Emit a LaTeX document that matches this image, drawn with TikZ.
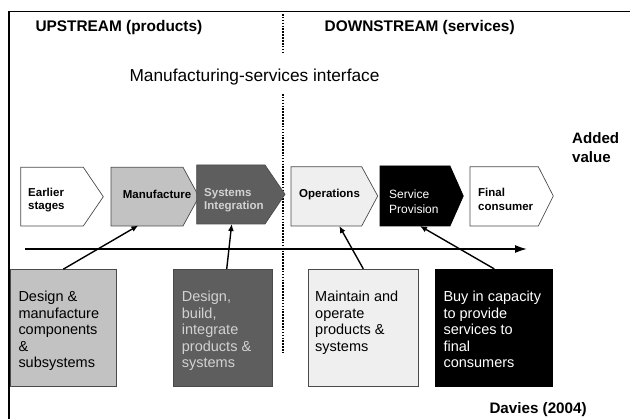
\documentclass[tikz,border=0pt]{standalone}
\usepackage{fontspec}
\setmainfont{Liberation Sans}
\usetikzlibrary{arrows.meta}
\definecolor{midgrey}{HTML}{C2C2C2}
\definecolor{darkgrey}{HTML}{5E5E5E}
\definecolor{palegrey}{HTML}{EFEFEF}
\definecolor{edgegrey}{HTML}{4A4A4A}
\definecolor{softtext}{HTML}{D2D2D2}

\begin{document}
\begin{tikzpicture}[x=1pt,y=-1pt,
  chev/.style={draw=edgegrey, line width=0.7pt, line join=miter},
  stagelabel/.style={anchor=west, inner sep=0, align=left, font=\fontsize{11.5}{13.5}\selectfont\bfseries},
  boxshape/.style={draw=edgegrey, line width=0.7pt, inner sep=0, minimum height=117pt},
  boxtext/.style={anchor=north west, inner sep=0, align=left, font=\fontsize{14.5}{16.5}\selectfont},
  heading/.style={anchor=west, inner sep=0, font=\fontsize{15.4}{18}\selectfont\bfseries},
  link/.style={line width=1.4pt, -{Latex[length=7pt,width=6pt]}},
  divider/.style={line width=1.6pt, dash pattern=on 1.6pt off 1.3pt}
]
\useasboundingbox (0,0) rectangle (630,419);
\fill[white] (0,0) rectangle (630,419);

% outer frame (left and top edges)
\draw[line width=1.2pt] (9,419) -- (9,11.5) -- (630,11.5);

% headings
\node[heading] (up) at (35.3,27.3) {UPSTREAM (products)};
\node[heading] (down) at (324.5,27.3) {DOWNSTREAM (services)};
\node[anchor=west, inner sep=0, font=\fontsize{17.3}{20}\selectfont] (iface) at (129.3,77) {Manufacturing-services interface};
\node[anchor=west, inner sep=0, align=left, font=\fontsize{15.1}{19}\selectfont\bfseries] (added) at (572,147.8) {Added\\value};
\node[heading, font=\fontsize{15.2}{18}\selectfont\bfseries] (cite) at (489.3,409.3) {Davies (2004)};

% manufacturing / services divider
\coordinate (d1) at (283,14);
\coordinate (d2) at (283,52);
\coordinate (d3) at (283,94);
\coordinate (d4) at (283,353);
\draw[divider] (d1) -- (d2);
\draw[divider] (d3) -- (d4);

% value chain stages
\draw[chev, fill=white] (20.7,167.3) -- (83.3,167.3) -- (103.3,196.7) -- (83.3,226) -- (20.7,226) -- cycle;
\node[stagelabel] (earlier) at (28,200) {Earlier\\stages};

\draw[chev, fill=midgrey] (111,167.3) -- (183,167.3) -- (199,196.7) -- (183,226) -- (111,226) -- cycle;
\node[stagelabel] (manu) at (122.7,194.5) {Manufacture};
\coordinate (manu-b) at (138.3,225.5);

\draw[chev, draw=darkgrey!80!black, fill=darkgrey] (196.7,165) -- (265,165) -- (285,194.3) -- (265,224) -- (196.7,224) -- cycle;
\node[stagelabel, text=softtext] (sysint) at (204,200) {Systems\\Integration};
\coordinate (sysint-b) at (231.7,224);

\draw[chev, fill=palegrey] (291,166.7) -- (361.7,166.7) -- (377.7,196) -- (361.7,226) -- (291,226) -- cycle;
\node[stagelabel] (ops) at (299,194.5) {Operations};
\coordinate (ops-b) at (339.3,226);

\draw[chev, draw=black, fill=black] (380,166) -- (450,166) -- (463.3,196) -- (450,226) -- (380,226) -- cycle;
\node[stagelabel, text=white, font=\fontsize{12}{14.7}\selectfont] (serv) at (389,201.7) {Service\\Provision};
\coordinate (serv-b) at (420,226);

\draw[chev, fill=white] (470,166.7) -- (538.3,166.7) -- (553.3,196) -- (538.3,226) -- (470,226) -- cycle;
\node[stagelabel] (final) at (478,199.2) {Final\\consumer};

% added-value axis
\coordinate (axL) at (25,249);
\coordinate (axR) at (527,249);
\draw[line width=1.6pt, -{Latex[length=12pt,width=8pt]}] (axL) -- (axR);

% activity boxes
\node[boxshape, fill=midgrey, minimum width=105.3pt] (b1) at (63.35,328) {};
\node[boxtext] (b1t) at (18.3,291) {Design \&\\manufacture\\components\\\&\\subsystems};

\node[boxshape, fill=darkgrey, minimum width=99.4pt] (b2) at (223,328) {};
\node[boxtext, text=softtext] (b2t) at (181.7,291) {Design,\\build,\\integrate\\products \&\\systems};

\node[boxshape, fill=palegrey, minimum width=110pt] (b3) at (363.3,327.7) {};
\node[boxtext] (b3t) at (315,291) {Maintain and\\operate\\products \&\\systems};

\node[boxshape, draw=black, fill=black, minimum width=117pt] (b4) at (494.2,327.7) {};
\node[boxtext, text=white] (b4t) at (443.3,291) {Buy in capacity\\to provide\\services to\\final\\consumers};

% links from activities to stages
\draw[link] (b1.north) -- (manu-b);
\draw[link] (b2.north) ++(3.7,0) -- (sysint-b);
\draw[link] (b3.north) -- (ops-b);
\draw[link] (b4.north) -- (serv-b);
\end{tikzpicture}
\end{document}
